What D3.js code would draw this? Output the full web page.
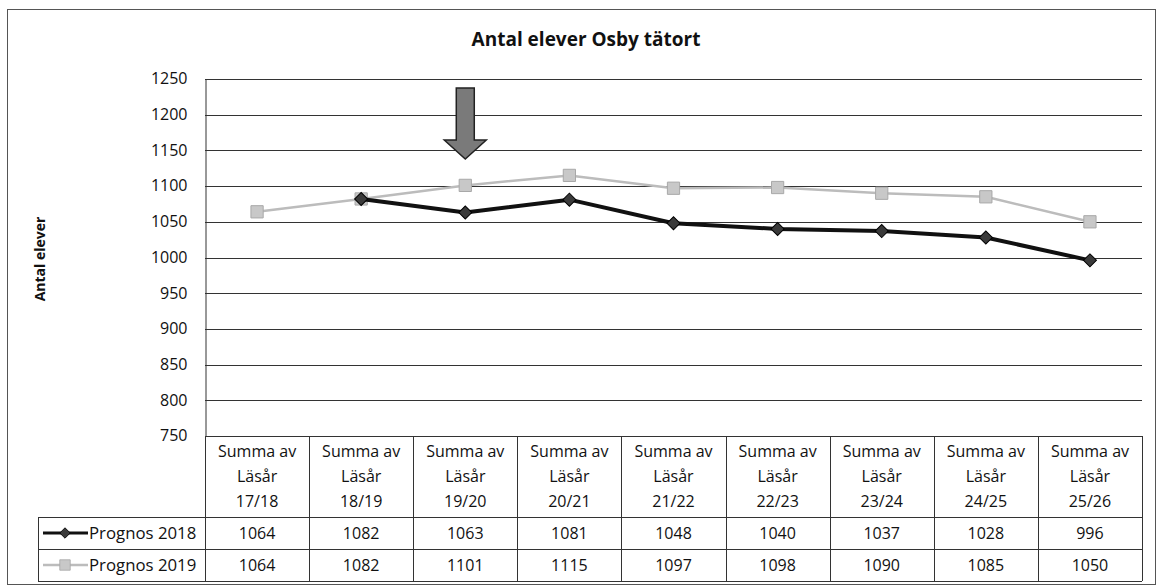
<!DOCTYPE html>
<html>
<head>
<meta charset="utf-8">
<script src="https://cdn.jsdelivr.net/npm/d3@7"></script>
<style>
  body { margin: 0; background: #fff; }
  svg text { font-family: "Open Sans", Lato, sans-serif; fill: #111; }
</style>
</head>
<body>
<svg id="chart" width="1160" height="586"></svg>
<script>
const categories = ['17/18', '18/19', '19/20', '20/21', '21/22', '22/23', '23/24', '24/25', '25/26']
const prognos2018 = [1064, 1082, 1063, 1081, 1048, 1040, 1037, 1028, 996]
const prognos2019 = [1064, 1082, 1101, 1115, 1097, 1098, 1090, 1085, 1050]
const yTicks = [750, 800, 850, 900, 950, 1000, 1050, 1100, 1150, 1200, 1250]
// the 2018 line is not drawn for the first year in the original
const firstPlotted2018 = 1

const series = [
    { name: 'Prognos 2019', values: prognos2019, start: 0, color: '#bcbcbc', width: 2.5, marker: 'square' },
    { name: 'Prognos 2018', values: prognos2018, start: firstPlotted2018, color: '#111', width: 4, marker: 'diamond' },
]

const svg = d3.select('#chart')

const plotLeft = 205, plotRight = 1142, plotTop = 79, plotBottom = 436
const x = d3.scaleBand().domain(categories).range([plotLeft, plotRight])
const y = d3.scaleLinear().domain([750, 1250]).range([plotBottom, plotTop])

// marker shapes: gray square, dark diamond (rotated square)
const squareSym = d3.symbol().type(d3.symbolSquare).size(150)
const diamondSym = d3.symbol().type(d3.symbolSquare).size(85)
function markerAttrs(sel, kind) {
    sel.attr('d', kind === 'square' ? squareSym : diamondSym)
        .attr('fill', kind === 'square' ? '#c8c8c8' : '#3a3a3a')
        .attr('stroke', kind === 'square' ? '#a8a8a8' : '#000')
        .attr('stroke-width', 1)
}

// outer frame
svg.append('rect')
    .attr('x', 7.5).attr('y', 9.5).attr('width', 1148).attr('height', 575)
    .attr('fill', 'none').attr('stroke', '#555').attr('stroke-width', 1)

svg.append('text')
    .attr('x', 586).attr('y', 46)
    .attr('text-anchor', 'middle')
    .attr('font-size', 19).attr('font-weight', 'bold')
    .text('Antal elever Osby tätort')

svg.append('text')
    .attr('transform', 'translate(45,259) rotate(-90)')
    .attr('text-anchor', 'middle')
    .attr('font-size', 14).attr('font-weight', 'bold')
    .text('Antal elever')

// gridlines
svg.append('g').selectAll('line')
    .data(yTicks.filter(d => d > 750))
    .enter().append('line')
    .attr('x1', plotLeft).attr('x2', plotRight)
    .attr('y1', d => Math.round(y(d)) + 0.5).attr('y2', d => Math.round(y(d)) + 0.5)
    .attr('stroke', '#333').attr('stroke-width', 1)

const yAxis = svg.append('g')
    .attr('transform', `translate(${plotLeft + 0.5},0)`)
    .call(d3.axisLeft(y).tickValues(yTicks).tickFormat(d3.format('d')).tickSize(0).tickPadding(18))
yAxis.select('.domain').attr('stroke', '#333')
yAxis.selectAll('text').attr('font-size', 16).attr('font-family', '"Open Sans", sans-serif').attr('fill', '#111')
yAxis.selectAll('.tick text').attr('dy', '0.3em')

// arrow pointing at 19/20
const ax = x('19/20') + x.bandwidth() / 2
svg.append('path')
    .attr('d', `M${ax - 9},88 L${ax + 9},88 L${ax + 9},140 L${ax + 21},140 L${ax},159 L${ax - 21},140 L${ax - 9},140 Z`)
    .attr('fill', '#7a7a7a').attr('stroke', '#222').attr('stroke-width', 1.5)

// lines and markers
const line = d3.line()
    .defined(d => d.v != null)
    .x(d => x(d.c) + x.bandwidth() / 2)
    .y(d => y(d.v))

series.forEach(s => {
    const pts = categories.map((c, i) => ({ c, v: i >= s.start ? s.values[i] : null }))
    svg.append('path')
        .datum(pts)
        .attr('d', line)
        .attr('fill', 'none')
        .attr('stroke', s.color)
        .attr('stroke-width', s.width)
        .attr('stroke-linejoin', 'round')
    svg.append('g').selectAll('path')
        .data(pts.filter(d => d.v != null))
        .enter().append('path')
        .call(markerAttrs, s.marker)
        .attr('transform', d => `translate(${x(d.c) + x.bandwidth() / 2},${y(d.v)})` + (s.marker === 'diamond' ? ' rotate(45)' : ''))
})

// data table
const headerBottom = 517, rowH = 32, tableLeft = 38
const tbl = svg.append('g').attr('stroke', '#333').attr('stroke-width', 1)
tbl.append('line').attr('x1', plotLeft).attr('x2', plotRight).attr('y1', plotBottom + 0.5).attr('y2', plotBottom + 0.5)
;[0, 1, 2].forEach(r => {
    const yy = headerBottom + r * rowH + 0.5
    tbl.append('line').attr('x1', tableLeft).attr('x2', plotRight).attr('y1', yy).attr('y2', yy)
})
tbl.append('line').attr('x1', tableLeft + 0.5).attr('x2', tableLeft + 0.5)
    .attr('y1', headerBottom).attr('y2', headerBottom + 2 * rowH)
tbl.selectAll('.vline')
    .data(categories.map(c => x(c)).concat([plotRight]))
    .enter().append('line')
    .attr('x1', d => Math.round(d) + 0.5).attr('x2', d => Math.round(d) + 0.5)
    .attr('y1', plotBottom).attr('y2', headerBottom + 2 * rowH)

const header = svg.append('g').selectAll('g')
    .data(categories).enter().append('g')
    .attr('transform', d => `translate(${x(d) + x.bandwidth() / 2},0)`)
header.each(function (d) {
    const g = d3.select(this)
    ;['Summa av', 'Läsår', d].forEach((t, i) => {
        g.append('text')
            .attr('y', 457 + i * 25)
            .attr('text-anchor', 'middle')
            .attr('font-size', 16)
            .text(t)
    })
})

const rows = [
    { name: 'Prognos 2018', values: prognos2018, color: '#111', width: 3, marker: 'diamond' },
    { name: 'Prognos 2019', values: prognos2019, color: '#bcbcbc', width: 2.5, marker: 'square' },
]
rows.forEach((r, ri) => {
    const cy = headerBottom + ri * rowH + rowH / 2
    svg.append('line')
        .attr('x1', 43).attr('x2', 88).attr('y1', cy).attr('y2', cy)
        .attr('stroke', r.color).attr('stroke-width', r.width)
    svg.append('path')
        .call(markerAttrs, r.marker)
        .attr('transform', `translate(65,${cy})` + (r.marker === 'diamond' ? ' rotate(45) scale(0.8)' : ' scale(0.85)'))
    svg.append('text')
        .attr('x', 89).attr('y', cy + 6)
        .attr('font-size', 16.8)
        .text(r.name)
    svg.append('g').selectAll('text')
        .data(r.values).enter().append('text')
        .attr('x', (d, i) => x(categories[i]) + x.bandwidth() / 2)
        .attr('y', cy + 6)
        .attr('text-anchor', 'middle')
        .attr('font-size', 16)
        .text(d => d)
})
</script>
</body>
</html>
